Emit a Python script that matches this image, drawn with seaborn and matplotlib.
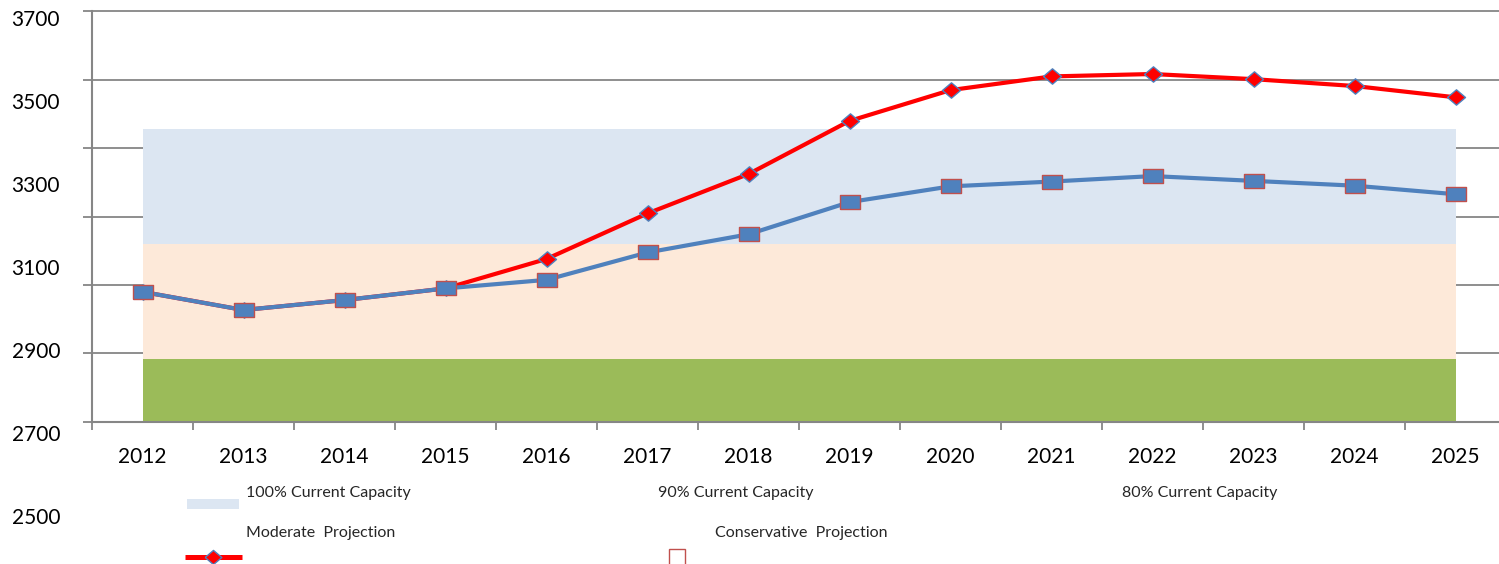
import numpy as np
import matplotlib
matplotlib.use("Agg")
import matplotlib.pyplot as plt
from matplotlib.patches import Rectangle
import seaborn as sns

# ---- data ----
years = [2012, 2013, 2014, 2015, 2016, 2017, 2018, 2019, 2020, 2021, 2022, 2023, 2024, 2025]
moderate = [2880, 2827, 2856, 2890, 2976, 3109, 3224, 3379, 3469, 3509, 3516, 3501, 3481, 3448]
conservative = [2880, 2827, 2856, 2890, 2915, 2995, 3048, 3142, 3188, 3202, 3218, 3204, 3190, 3165]
capacity_labels = ["80% Current Capacity", "90% Current Capacity", "100% Current Capacity"]
capacity_tops = [2685, 3020, 3355]
capacity_colors = ["#9BBB59", "#FDE9D9", "#DCE6F2"]
y_ticks = [2500, 2700, 2900, 3100, 3300, 3500, 3700]
x_labels = [str(y) for y in years]

sns.set_theme(style="white")
plt.rcParams["font.family"] = ["Lato", "DejaVu Sans"]

W, H = 1499, 564
fig = plt.figure(figsize=(W / 100, H / 100), dpi=100)

def px_axes(left, top, right, bottom):
    return [left / W, (H - bottom) / H, (right - left) / W, (bottom - top) / H]

GRID = "#868686"

ax = fig.add_axes(px_axes(92, 11, 92 + 14 * 101, 422))
ax.set_xlim(2011.5, 2025.5)
ax.set_ylim(2500, 3700)

# capacity bands (stacked)
base = 2500
for top, col in zip(capacity_tops, capacity_colors):
    ax.fill_between(years, np.full(len(years), base), np.full(len(years), top),
                    color=col, lw=0, zorder=1)
    base = top

# gridlines
ax.set_yticks(y_ticks)
ax.set_yticklabels([])
ax.yaxis.grid(True, color=GRID, lw=1.3, zorder=0.5)
for gl in ax.get_ygridlines():
    gl.set_clip_on(False)
ax.set_axisbelow(True)
ax.tick_params(axis="y", direction="out", length=6.5, width=1.3, color=GRID, left=True)

# x axis
ax.set_xticks(years)
ax.set_xticklabels(x_labels, fontsize=15, color="black")
ax.tick_params(axis="x", length=0, pad=18)
ax.set_xticks(np.arange(2011.5, 2026, 1), minor=True)
ax.tick_params(axis="x", which="minor", direction="out", length=6, width=1.3, color=GRID, bottom=True)

for s in ["top", "right"]:
    ax.spines[s].set_visible(False)
for s in ["left", "bottom"]:
    ax.spines[s].set_color(GRID)
    ax.spines[s].set_linewidth(1.5)

rect_marker = [(-1, -0.72), (1, -0.72), (1, 0.72), (-1, 0.72), (-1, -0.72)]
diamond_marker = [(-1, 0), (0, 0.85), (1, 0), (0, -0.85), (-1, 0)]

sns.lineplot(x=years, y=moderate, ax=ax, color="#FF0000", lw=3,
             marker=diamond_marker, markersize=13, markerfacecolor="#FF0000",
             markeredgecolor="#4F81BD", markeredgewidth=1.0, zorder=3)
sns.lineplot(x=years, y=conservative, ax=ax, color="#4F81BD", lw=3,
             marker=rect_marker, markersize=14, markerfacecolor="#4F81BD",
             markeredgecolor="#C0504D", markeredgewidth=1.0, zorder=4)
ax.set_xlabel("")
ax.set_ylabel("")

# y tick labels (spread as in the reference)
lab = fig.add_axes(px_axes(92, 17.5, 93, 516))
lab.set_ylim(2500, 3700)
lab.set_yticks(y_ticks)
lab.set_yticklabels([str(v) for v in y_ticks], fontsize=15, color="black")
lab.tick_params(axis="y", length=0, pad=23)
lab.set_xticks([])
lab.patch.set_visible(False)
for s in lab.spines.values():
    s.set_visible(False)

# legend (manual layout in pixel space)
lg = fig.add_axes([0, 0, 1, 1])
lg.set_xlim(0, W)
lg.set_ylim(H, 0)
lg.axis("off")
lg.patch.set_visible(False)
lg.add_patch(Rectangle((187, 499), 52, 10, color=capacity_colors[2], lw=0))
fs = 11.5
lg.text(246, 493, capacity_labels[2], fontsize=fs, va="center", ha="left")
lg.text(658, 493, capacity_labels[1], fontsize=fs, va="center", ha="left")
lg.text(1122, 493, capacity_labels[0], fontsize=fs, va="center", ha="left")
lg.text(246, 533, "Moderate  Projection", fontsize=fs, va="center", ha="left")
lg.text(715, 533, "Conservative  Projection", fontsize=fs, va="center", ha="left")
lg.plot([185, 242], [556.5, 556.5], color="#FF0000", lw=3.6, solid_capstyle="butt")
lg.plot([213], [556.5], marker=diamond_marker, markersize=12, color="#FF0000",
        markeredgecolor="#4F81BD", markeredgewidth=1.0)
lg.plot([677.5], [556.5], marker="s", markersize=12, markerfacecolor="white",
        markeredgecolor="#C0504D", markeredgewidth=1.0)

fig.savefig("out.png", dpi=100)
